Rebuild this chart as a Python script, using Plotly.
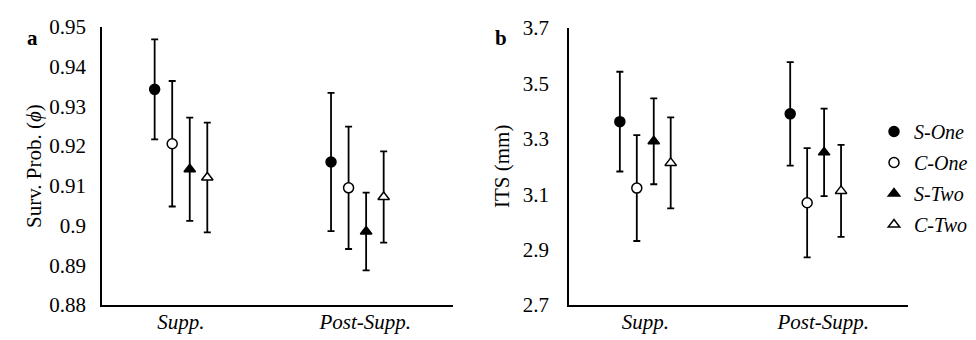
import plotly.graph_objects as go

categories = ["Supp.", "Post-Supp."]
series = ["S-One", "C-One", "S-Two", "C-Two"]

# Survival probability (phi): means and half-widths of error bars
surv_mean = {
    "S-One": [0.9343, 0.9160],
    "C-One": [0.9206, 0.9095],
    "S-Two": [0.9142, 0.8985],
    "C-Two": [0.9121, 0.9072],
}
surv_err = {
    "S-One": [0.0126, 0.0174],
    "C-One": [0.0158, 0.0154],
    "S-Two": [0.0130, 0.0098],
    "C-Two": [0.0138, 0.0115],
}

# ITS (mm): means and half-widths of error bars
its_mean = {
    "S-One": [3.362, 3.390],
    "C-One": [3.122, 3.069],
    "S-Two": [3.291, 3.251],
    "C-Two": [3.213, 3.112],
}
its_err = {
    "S-One": [0.180, 0.187],
    "C-One": [0.191, 0.197],
    "S-Two": [0.155, 0.158],
    "C-Two": [0.164, 0.166],
}

surv_ticks = [0.88, 0.89, 0.90, 0.91, 0.92, 0.93, 0.94, 0.95]
surv_ticktext = ["0.88", "0.89", "0.9", "0.91", "0.92", "0.93", "0.94", "0.95"]
its_ticks = [2.7, 2.9, 3.1, 3.3, 3.5, 3.7]
its_ticktext = ["2.7", "2.9", "3.1", "3.3", "3.5", "3.7"]

# style
styles = {
    "S-One": dict(symbol="circle", color="black"),
    "C-One": dict(symbol="circle", color="white"),
    "S-Two": dict(symbol="triangle-up", color="black"),
    "C-Two": dict(symbol="triangle-up", color="white"),
}
group_centers = [0.45, 1.455]
label_pos = [0.45, 1.5]
offsets = [-0.15, -0.05, 0.05, 0.15]
FONT = "Liberation Serif, serif"

# page places the figure 8px from the top-left corner (body margin)
OFF = 8
W, H = 976 - OFF, 340 - OFF


def px(x):
    return (x - OFF) / W


def py(y):
    return 1 - (y - OFF) / H


fig = go.Figure()
for panel, (means, errs) in enumerate([(surv_mean, surv_err), (its_mean, its_err)]):
    xa = "x" if panel == 0 else "x2"
    ya = "y" if panel == 0 else "y2"
    for i, s in enumerate(series):
        st = styles[s]
        fig.add_trace(go.Scatter(
            x=[c + offsets[i] for c in group_centers],
            y=means[s],
            mode="markers",
            name="<i>" + s + "</i>",
            showlegend=(panel == 1),
            legendgroup=s,
            marker=dict(symbol=st["symbol"], size=10, color=st["color"],
                        line=dict(color="black", width=1.5)),
            error_y=dict(type="data", array=errs[s], color="black",
                         thickness=1.8, width=3.5),
            xaxis=xa, yaxis=ya,
        ))

axis_common = dict(showline=True, linecolor="black", linewidth=1.5,
                   showgrid=False, zeroline=False, ticks="", automargin=False,
                   tickfont=dict(family=FONT, size=21, color="black"))

fig.update_layout(
    width=W, height=H,
    margin=dict(l=0, r=0, t=0, b=0, autoexpand=False),
    paper_bgcolor="white", plot_bgcolor="white",
    font=dict(family=FONT, color="black"),
    xaxis=dict(domain=[px(102), px(453)], range=[0, 2], tickvals=label_pos,
               ticktext=["<i>" + c + "</i>" for c in categories],
               anchor="y", ticklabelstandoff=-3, **axis_common),
    yaxis=dict(domain=[py(305), py(27)], range=[0.88, 0.95], tickvals=surv_ticks,
               ticktext=surv_ticktext, anchor="x", ticklabelstandoff=10, **axis_common),
    xaxis2=dict(domain=[px(569), px(908)], range=[0, 2], tickvals=label_pos,
                ticktext=["<i>" + c + "</i>" for c in categories],
                anchor="y2", ticklabelstandoff=-3, **axis_common),
    yaxis2=dict(domain=[py(305), py(28)], range=[2.7, 3.7], tickvals=its_ticks,
                ticktext=its_ticktext, anchor="x2", ticklabelstandoff=14, **axis_common),
    legend=dict(x=px(874), y=py(112), xanchor="left", yanchor="top",
                font=dict(family=FONT, size=20, color="black"),
                bgcolor="rgba(0,0,0,0)", itemwidth=30, tracegroupgap=2),
    annotations=[
        dict(text="Surv. Prob. (<i>ϕ</i>)", x=px(20), y=py(166),
             textangle=-90, showarrow=False, font=dict(family=FONT, size=21)),
        dict(text="ITS (mm)", x=px(502), y=py(167),
             textangle=-90, showarrow=False, font=dict(family=FONT, size=21)),
        dict(text="<b>a</b>", x=px(25), y=py(24),
             showarrow=False, font=dict(family=FONT, size=21)),
        dict(text="<b>b</b>", x=px(501), y=py(24),
             showarrow=False, font=dict(family=FONT, size=21)),
    ],
)
for a in fig.layout.annotations:
    a.xref = "paper"
    a.yref = "paper"

fig.write_html("out.html")
